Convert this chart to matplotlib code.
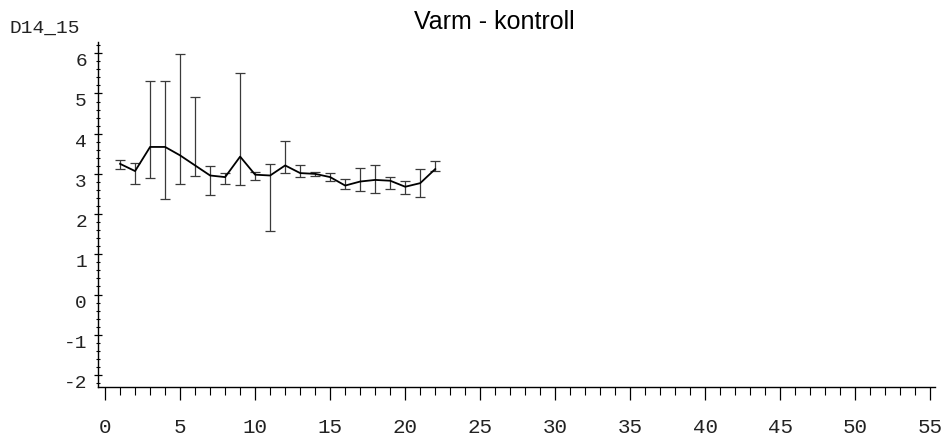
import numpy as np
import matplotlib
matplotlib.use("Agg")
import matplotlib.pyplot as plt
from matplotlib.ticker import MultipleLocator

plt.rcParams["axes.unicode_minus"] = False

# values (D14_15, Varm - kontroll)
day = np.arange(1, 23)
mean = [3.25, 3.07, 3.67, 3.67, 3.46, 3.21, 2.96, 2.92, 3.43, 2.98, 2.96,
        3.21, 3.02, 3.00, 2.92, 2.71, 2.81, 2.85, 2.83, 2.68, 2.77, 3.12]
upper = [3.35, 3.28, 5.32, 5.32, 5.98, 4.90, 3.19, 3.02, 5.52, 3.04, 3.25,
         3.83, 3.23, 3.04, 3.02, 2.87, 3.15, 3.22, 2.93, 2.82, 3.11, 3.33]
lower = [3.13, 2.75, 2.90, 2.38, 2.75, 2.94, 2.48, 2.75, 2.72, 2.86, 1.57,
         3.02, 2.92, 2.94, 2.83, 2.62, 2.58, 2.52, 2.62, 2.50, 2.42, 3.08]

xticks = np.arange(0, 56, 5)
yticks = np.arange(-2, 7, 1)

mono = "Liberation Mono"

fig = plt.figure(figsize=(9.47, 4.42), dpi=100)
ax = fig.add_axes([0.1035, 0.1244, 0.8838, 0.7806])

m = np.array(mean)
yerr = [m - np.array(lower), np.array(upper) - m]
ax.errorbar(day, m, yerr=yerr, fmt="none", ecolor="#3a3a3a",
            elinewidth=0.9, capsize=3.5, capthick=0.9)
ax.plot(day, m, color="black", lw=1.3)

ax.set_xlim(-0.47, 55.3)
ax.set_ylim(-2.3, 6.28)

ax.spines["top"].set_visible(False)
ax.spines["right"].set_visible(False)
for s in ["left", "bottom"]:
    ax.spines[s].set_linewidth(1.0)

ax.set_xticks(xticks)
ax.set_yticks(yticks)
ax.xaxis.set_minor_locator(MultipleLocator(1))
ax.yaxis.set_minor_locator(MultipleLocator(0.2))

ax.tick_params(axis="x", which="major", direction="out", length=9, width=0.9,
               pad=13, labelsize=15)
ax.tick_params(axis="x", which="minor", direction="out", length=5.5, width=0.8)
ax.tick_params(axis="y", which="major", direction="inout", length=6, width=0.9,
               pad=5, labelsize=14)
ax.tick_params(axis="y", which="minor", direction="inout", length=3.5, width=0.8)

for lbl in ax.get_xticklabels() + ax.get_yticklabels():
    lbl.set_fontfamily(mono)
    lbl.set_color("#222222")
plt.setp(ax.get_yticklabels(), va="top")

fig.text(0.522, 0.95, "Varm - kontroll", ha="center", va="center",
         fontsize=18, family="Liberation Sans")
fig.text(0.010, 1 - 28 / 442, "D14_15", ha="left", va="center",
         fontsize=14, family=mono, color="#222222")

fig.savefig("out.png", dpi=100)
